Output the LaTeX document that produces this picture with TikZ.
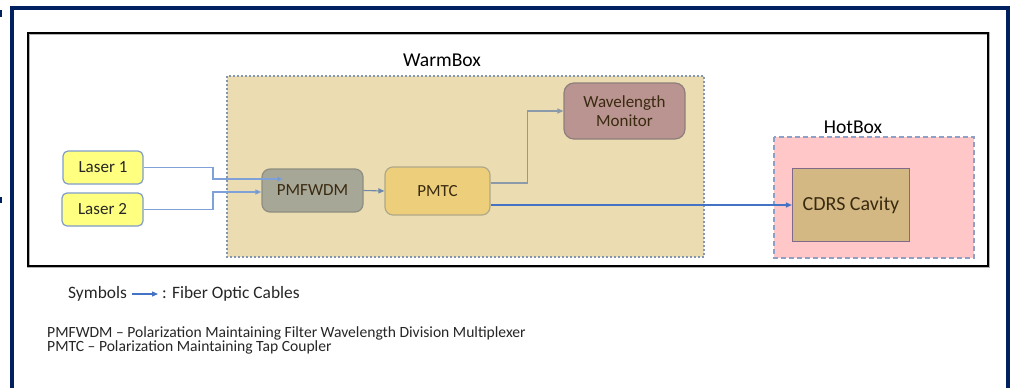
\documentclass[tikz,border=0pt]{standalone}
\usepackage{fontspec}
\setmainfont{Carlito}
\usetikzlibrary{arrows.meta}

\definecolor{navy}{HTML}{002060}
\definecolor{warmfill}{HTML}{EBDDB1}
\definecolor{warmedge}{HTML}{8497B0}
\definecolor{hotfill}{HTML}{FFC7C7}
\definecolor{hotedge}{HTML}{8FA0C6}
\definecolor{laserfill}{HTML}{FFFF80}
\definecolor{laseredge}{HTML}{7F9CC9}
\definecolor{wdmfill}{HTML}{A7A798}
\definecolor{wdmedge}{HTML}{8E8E80}
\definecolor{tcfill}{HTML}{EDCF7B}
\definecolor{tcedge}{HTML}{B0A88A}
\definecolor{wmfill}{HTML}{BA9490}
\definecolor{wmedge}{HTML}{8E7F7C}
\definecolor{cavfill}{HTML}{D3B884}
\definecolor{cavedge}{HTML}{7F6A8C}
\definecolor{fiber}{HTML}{4472C4}
\definecolor{fiberlight}{HTML}{7FA1D8}
\definecolor{fibergray}{HTML}{6E88AA}
\definecolor{tapgray}{HTML}{8A9AAA}
\definecolor{boxtext}{HTML}{262626}
\definecolor{browntext}{HTML}{3A2A10}

\tikzset{
  unit/.style={rounded corners=#1, line width=1.2pt, align=center,
    font=\fontsize{17}{18}\selectfont, inner sep=0pt},
  unit/.default=6pt,
  laserbox/.style={unit=5pt, draw=laseredge, fill=laserfill, text=boxtext,
    minimum width=80pt, minimum height=33pt},
  fiberline/.style={line width=1.1pt, -{Triangle[length=6pt,width=5pt]}},
  boxlabel/.style={font=\fontsize{19.6}{21}\selectfont, text=black, inner sep=0pt},
  notetext/.style={font=\fontsize{15.6}{16}\selectfont, text=boxtext, inner sep=0pt, anchor=west},
  legendtext/.style={font=\fontsize{17.4}{18}\selectfont, text=boxtext, inner sep=0pt, anchor=west},
}

\begin{document}
\begin{tikzpicture}[x=1pt, y=-1pt]
\useasboundingbox (0,0) rectangle (1011,388);

% page frame, open at the bottom
\draw[navy, line width=4pt] (12,388) -- (12,8) -- (1008,8) -- (1008,388);
\fill[navy] (0,10) rectangle (1.5,17);
\fill[navy] (0,197) rectangle (1.5,203);

% system outline with soft shadow
\draw[gray!60, line width=3pt] (28,33) rectangle (988,266);
\draw[black, line width=1.3pt] (28,33) rectangle (988,266);

% enclosures
\draw[warmedge, fill=warmfill, line width=1.2pt, dash pattern=on 2pt off 2pt]
  (227,76) rectangle (704,257);
\node[boxlabel] (warmlbl) at (442,60) {WarmBox};

\draw[hotedge, fill=hotfill, line width=1.5pt, dash pattern=on 5pt off 3pt]
  (774,137) rectangle (974,258);
\node[boxlabel] (hotlbl) at (853,127) {HotBox};

% components
\node[laserbox] (l1) at (103,167.5) {Laser 1};
\node[laserbox, minimum width=81pt] (l2) at (102.5,209.5) {Laser 2};

\node[unit=8pt, draw=wdmedge, fill=wdmfill, text=browntext,
      minimum width=101pt, minimum height=43pt] (wdm) at (312.5,190.5) {PMFWDM};
\node[unit=8pt, draw=tcedge, fill=tcfill, text=browntext,
      minimum width=105pt, minimum height=48pt] (tc) at (437.5,191) {PMTC};
\node[unit=10pt, draw=wmedge, fill=wmfill, text=browntext,
      minimum width=121pt, minimum height=56pt] (wm) at (624.5,111)
      {Wavelength\\[1pt]Monitor};
\node[draw=cavedge, fill=cavfill, text=browntext, line width=1.2pt, inner sep=0pt,
      font=\fontsize{20}{21}\selectfont,
      minimum width=117pt, minimum height=73pt] (cav) at (851,205) {CDRS Cavity};

% fiber runs
\coordinate (l1end) at (283,179);
\draw[fiberline, draw=fiberlight, -{Triangle[length=6pt,width=5pt,fill=fibergray]}]
  (l1.east) -- (213,167.5) -- (213,179) -- (l1end);
\draw[fiberline, draw=fiberlight, -{Triangle[length=6pt,width=5pt,fill=fibergray]}]
  (l2.east) -- (213,209.5) -- (213,192) -- ([yshift=-1.5pt]wdm.west);
\draw[fiberline, draw=fibergray] (wdm.east) -- (tc.west);
\draw[fiberline, draw=tapgray] ([yshift=8pt]tc.east) -- (527.5,183) -- (527.5,111) -- (wm.west);
\draw[fiberline, draw=fiber] ([yshift=-14pt]tc.east) -- (cav.west);

% legend
\node[legendtext] (sym) at (68,294) {Symbols};
\coordinate (symarrow) at (158,294);
\draw[fiberline, draw=fiber] ([xshift=5pt]sym.east) -- (symarrow);
\node[legendtext] (symdesc) at (162,294) {: Fiber Optic Cables};

\node[notetext] (note1) at (47,333)
  {PMFWDM – Polarization Maintaining Filter Wavelength Division Multiplexer};
\node[notetext] (note2) at (47,347)
  {PMTC – Polarization Maintaining Tap Coupler};
\end{tikzpicture}
\end{document}
